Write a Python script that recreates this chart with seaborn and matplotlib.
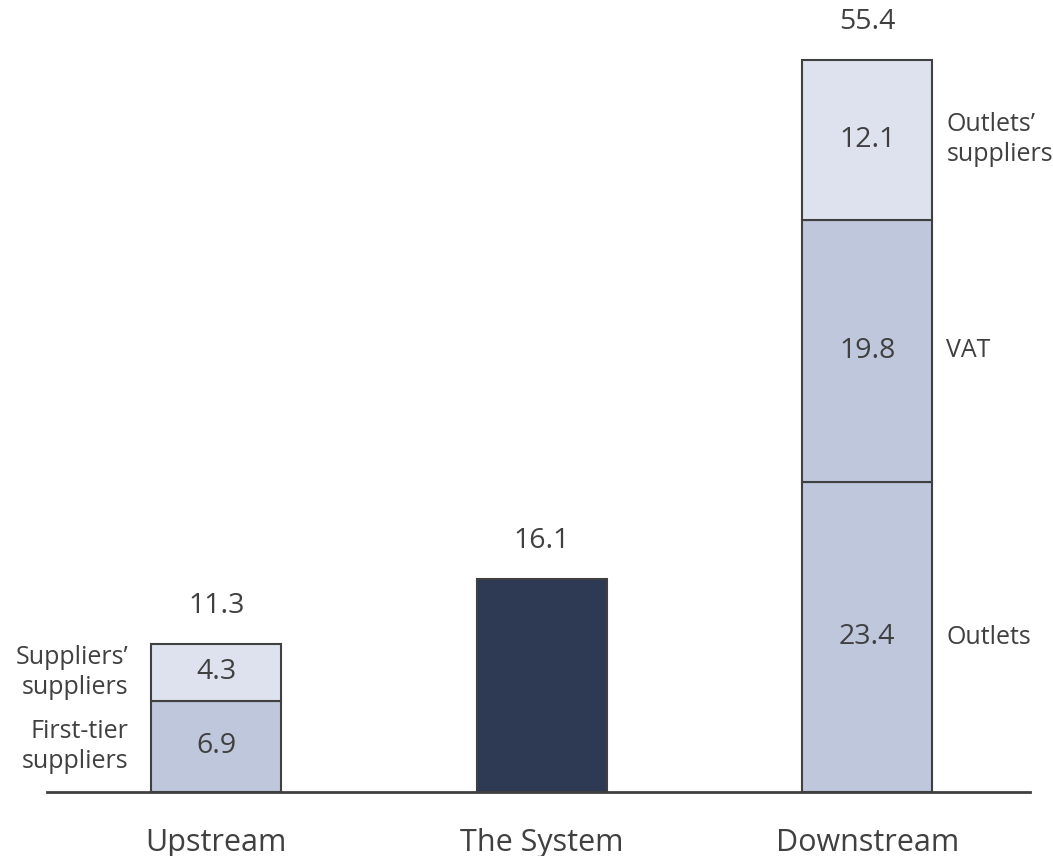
import matplotlib
matplotlib.use("Agg")
import matplotlib.pyplot as plt
import seaborn as sns
import pandas as pd

# Categories and stacked segment values
categories = ["Upstream", "The System", "Downstream"]

upstream_values = [6.9, 4.3]
upstream_labels = ["First-tier\nsuppliers", "Suppliers’\nsuppliers"]

system_values = [16.1]
system_labels = [""]

downstream_values = [23.4, 19.8, 12.1]
downstream_labels = ["Outlets", "VAT", "Outlets’\nsuppliers"]

totals = [11.3, 16.1, 55.4]

MID = "#BEC7DC"
LIGHT = "#DEE2EE"
DARK = "#2E3A54"
INK = "#404040"

sns.set_theme(style="white")
plt.rcParams["font.family"] = ["Open Sans", "DejaVu Sans"]

# Long table of segments, one row per stacked piece
rows = []
for cat, vals, labs, cols, side in [
    ("Upstream", upstream_values, upstream_labels, [MID, LIGHT], "left"),
    ("The System", system_values, system_labels, [DARK], None),
    ("Downstream", downstream_values, downstream_labels, [MID, MID, LIGHT], "right"),
]:
    bottom = 0.0
    for v, lab, c in zip(vals, labs, cols):
        rows.append(dict(category=cat, value=v, bottom=bottom, label=lab, color=c, side=side))
        bottom += v
segments = pd.DataFrame(rows)

fig = plt.figure(figsize=(10.53, 8.56), dpi=100)
ax = fig.add_axes([47 / 1053, 64 / 856, (1030 - 47) / 1053, 792 / 856])

bar_w = 0.4
for _, r in segments.iterrows():
    sns.barplot(x=[r["category"]], y=[r["value"]], order=categories,
                bottom=r["bottom"], color=r["color"], width=bar_w,
                edgecolor=INK, linewidth=1.5, saturation=1, ax=ax)

# Value labels inside segments and side labels
for _, r in segments.iterrows():
    xi = categories.index(r["category"])
    yc = r["bottom"] + r["value"] / 2
    if r["category"] != "The System":
        ax.text(xi, yc, f"{r['value']:.1f}", ha="center", va="center",
                fontsize=20.5, color=INK)
    if r["side"] == "left":
        ax.text(xi - bar_w / 2 - 0.07, yc, r["label"], ha="right", va="center",
                fontsize=18, color=INK, multialignment="right", linespacing=1.25)
    elif r["side"] == "right":
        ax.text(xi + bar_w / 2 + 0.043, yc, r["label"], ha="left", va="center",
                fontsize=18, color=INK, multialignment="left", linespacing=1.25)

# Totals above each bar
for xi, t in enumerate(totals):
    top = segments.loc[segments["category"] == categories[xi], "value"].sum()
    ax.annotate(f"{t:.1f}", xy=(xi, top), xytext=(0, 27), textcoords="offset points",
                ha="center", va="center", fontsize=20.5, color=INK)

ax.set_xlim(-0.52, 2.5)
ax.set_ylim(0, 59.8)
ax.set_xlabel("")
ax.set_ylabel("")
ax.set_yticks([])
for s in ["top", "right", "left"]:
    ax.spines[s].set_visible(False)
ax.spines["bottom"].set_color(INK)
ax.spines["bottom"].set_linewidth(2)
ax.tick_params(axis="x", length=0, pad=26, labelsize=22, labelcolor=INK)

fig.savefig("out.png", dpi=100, facecolor="white")
